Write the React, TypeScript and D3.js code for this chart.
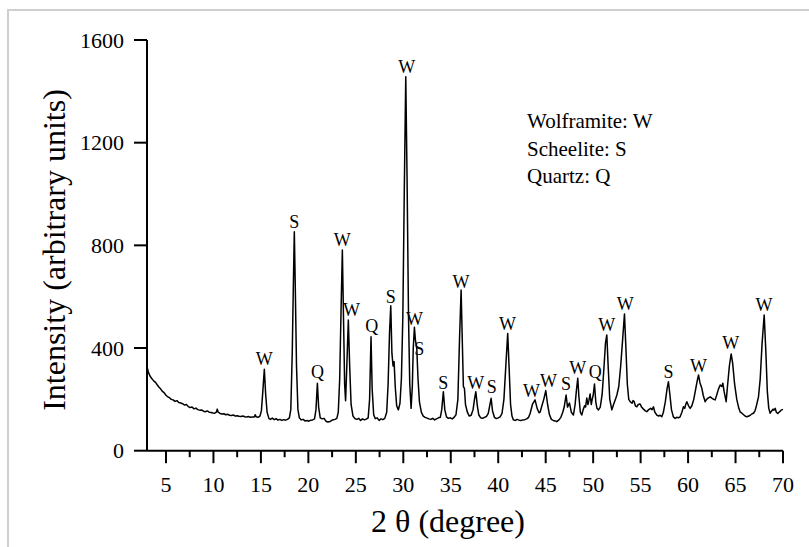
import React from "react";
import * as d3 from "d3";

// XRD pattern: [2θ (degree), intensity (arbitrary units)]
const pattern: [number, number][] = [
[3.0,327],[3.15,305],[3.3,292],[3.5,281],[3.7,272],[3.9,266],[4.05,258],[4.25,248],[4.45,240],[4.6,232],[4.8,226],[5.0,216],[5.15,211],[5.35,207],[5.55,200],[5.75,198],[5.95,192],[6.15,195],[6.35,188],[6.55,186],[6.75,183],[6.95,178],[7.15,180],[7.35,172],[7.55,168],[7.75,170],[7.95,163],[8.15,166],[8.35,160],[8.55,158],[8.75,159],[8.95,154],[9.15,152],[9.35,155],[9.55,150],[9.75,149],[9.95,147],[10.15,146],[10.3,150],[10.4,162],[10.5,150],[10.7,145],[10.9,143],[11.1,144],[11.3,140],[11.5,142],[11.7,138],[11.9,137],[12.1,139],[12.3,135],[12.5,136],[12.7,134],[12.9,133],[13.1,135],[13.3,132],[13.5,131],[13.7,133],[13.9,130],[14.1,131],[14.3,131],[14.4,140],[14.5,132],[14.7,130],[14.9,135],[15.05,155],[15.2,230],[15.36,317],[15.5,220],[15.65,150],[15.85,125],[16.0,122],[16.2,127],[16.4,121],[16.6,125],[16.8,119],[17.0,122],[17.2,118],[17.4,121],[17.6,119],[17.8,122],[18.0,128],[18.15,160],[18.3,380],[18.42,650],[18.52,853],[18.62,640],[18.75,330],[18.9,160],[19.05,128],[19.25,120],[19.45,122],[19.65,116],[19.85,118],[20.05,115],[20.25,119],[20.45,120],[20.65,124],[20.8,160],[20.95,263],[21.08,170],[21.25,128],[21.45,124],[21.65,126],[21.85,115],[22.05,112],[22.3,114],[22.55,120],[22.8,122],[23.0,126],[23.15,150],[23.3,280],[23.45,560],[23.58,782],[23.7,520],[23.82,260],[23.92,195],[24.05,330],[24.21,509],[24.35,330],[24.5,180],[24.7,135],[24.9,125],[25.1,122],[25.3,126],[25.5,118],[25.7,124],[25.9,120],[26.1,123],[26.3,128],[26.45,200],[26.6,444],[26.72,240],[26.88,140],[27.05,125],[27.25,128],[27.45,118],[27.65,124],[27.85,121],[28.05,126],[28.25,150],[28.4,260],[28.55,460],[28.68,565],[28.8,380],[28.92,330],[29.03,347],[29.15,250],[29.3,175],[29.48,159],[29.65,185],[29.8,280],[29.95,520],[30.1,1000],[30.26,1457],[30.4,1050],[30.55,520],[30.68,260],[30.82,165],[30.95,250],[31.05,400],[31.17,481],[31.28,430],[31.42,399],[31.55,280],[31.7,190],[31.9,150],[32.1,135],[32.3,130],[32.5,127],[32.7,124],[32.9,122],[33.1,126],[33.3,120],[33.5,124],[33.7,128],[33.9,130],[34.05,160],[34.22,230],[34.37,160],[34.55,132],[34.75,126],[34.95,128],[35.15,124],[35.35,130],[35.55,140],[35.75,200],[35.92,430],[36.09,626],[36.22,420],[36.33,250],[36.44,243],[36.55,180],[36.75,150],[36.95,135],[37.15,138],[37.35,160],[37.5,200],[37.64,230],[37.8,175],[37.95,140],[38.15,128],[38.35,126],[38.55,130],[38.75,133],[38.95,145],[39.1,175],[39.25,204],[39.4,155],[39.6,130],[39.8,125],[40.0,128],[40.2,132],[40.4,145],[40.6,200],[40.8,330],[41.0,457],[41.15,320],[41.3,180],[41.45,135],[41.6,120],[41.8,118],[42.0,122],[42.2,119],[42.4,118],[42.6,120],[42.8,121],[43.0,124],[43.2,130],[43.36,145],[43.6,180],[43.88,198],[44.1,165],[44.3,148],[44.41,150],[44.6,175],[44.8,200],[45.01,234],[45.2,180],[45.4,140],[45.6,122],[45.8,118],[46.0,116],[46.17,113],[46.4,120],[46.6,130],[46.8,150],[46.95,170],[47.15,217],[47.3,170],[47.5,186],[47.7,150],[47.92,139],[48.1,180],[48.25,240],[48.38,282],[48.5,210],[48.65,150],[48.8,139],[48.95,160],[49.1,175],[49.2,170],[49.33,205],[49.45,180],[49.55,195],[49.68,221],[49.8,180],[49.9,200],[50.0,215],[50.14,260],[50.28,190],[50.4,165],[50.56,159],[50.75,170],[50.95,220],[51.15,330],[51.3,420],[51.44,451],[51.58,330],[51.75,200],[51.97,159],[52.15,180],[52.35,200],[52.5,217],[52.7,250],[52.9,330],[53.1,430],[53.3,533],[53.45,400],[53.6,260],[53.75,200],[53.9,191],[54.1,185],[54.2,195],[54.32,191],[54.45,175],[54.6,171],[54.75,180],[54.95,182],[55.1,170],[55.3,162],[55.5,155],[55.65,152],[55.85,160],[56.05,165],[56.2,160],[56.35,171],[56.5,150],[56.7,139],[56.9,135],[57.05,138],[57.23,132],[57.4,150],[57.6,190],[57.78,240],[57.93,269],[58.08,220],[58.25,160],[58.45,132],[58.64,126],[58.8,130],[59.0,128],[59.16,132],[59.35,150],[59.51,171],[59.65,165],[59.75,180],[59.87,191],[60.05,175],[60.22,165],[60.4,175],[60.6,200],[60.8,240],[60.95,270],[61.1,295],[61.25,265],[61.45,243],[61.6,215],[61.8,191],[61.95,200],[62.1,205],[62.33,210],[62.5,205],[62.7,200],[62.85,198],[63.0,215],[63.2,240],[63.38,256],[63.55,250],[63.66,263],[63.8,230],[64.01,191],[64.15,250],[64.35,330],[64.54,377],[64.7,340],[64.9,260],[65.14,198],[65.35,165],[65.5,150],[65.67,146],[65.85,140],[66.0,135],[66.19,132],[66.4,135],[66.6,140],[66.75,144],[66.89,146],[67.05,155],[67.2,175],[67.42,210],[67.6,280],[67.8,420],[68.02,529],[68.2,380],[68.35,230],[68.5,165],[68.65,146],[68.8,155],[68.95,162],[69.05,158],[69.18,165],[69.3,150],[69.45,145],[69.52,148],[69.65,152],[69.8,158],[70.0,161],
];

// Peak annotations
const labelText = ["W","S","Q","W","W","Q","S","W","W","S","S","W","W","S","W","W","W","S","W","Q","W","W","S","W","W","W"];
const labelX = [15.36,18.52,20.95,23.58,24.55,26.68,28.68,30.36,31.17,31.69,34.22,36.09,37.64,39.32,40.97,43.5,45.3,47.15,48.38,50.21,51.44,53.37,57.93,61.09,64.5,68.0];
const labelY = [334,867,285,797,525,464,574,1473,490,373,239,633,239,224,470,210,249,236,299,282,466,548,282,308,395,544];

const legendLines = ["Wolframite: W", "Scheelite: S", "Quartz: Q"];

const xMajorTicks = [5,10,15,20,25,30,35,40,45,50,55,60,65,70];
const xMinorTicks = [7.5,12.5,17.5,22.5,27.5,32.5,37.5,42.5,47.5,52.5,57.5,62.5,67.5];
const yTicks = [0,400,800,1200,1600];

const FONT = "Liberation Serif, Times New Roman, serif";

export default function App() {
  const W = 809, H = 547;
  const x = d3.scaleLinear().domain([3, 70]).range([147, 783]);
  const y = d3.scaleLinear().domain([0, 1600]).range([450.7, 40]);
  const line = d3.line<[number, number]>().x(d => x(d[0])).y(d => y(d[1]));
  const y0 = y(0);
  const T = { fontFamily: FONT, fill: "#000" } as React.CSSProperties;
  return (
    <svg width={W} height={H} style={{ position: "absolute", left: 0, top: 0, background: "#fff" }}>
      <rect x={0} y={0} width={W} height={H} fill="#fff" />
      <rect x={8} y={10} width={W + 20} height={H + 20} fill="none" stroke="#cfcfcf" strokeWidth={2} />
      {/* data line */}
      <path d={line(pattern) || ""} fill="none" stroke="#000" strokeWidth={1.5} strokeLinejoin="round" />
      {/* axes */}
      <line x1={x(3)} x2={x(3)} y1={y(0)} y2={y(1600)} stroke="#000" strokeWidth={2} />
      <line x1={x(3)} x2={x(70)} y1={y0} y2={y0} stroke="#000" strokeWidth={2} />
      {yTicks.map(t => (
        <g key={"y" + t}>
          <line x1={x(3) - 13} x2={x(3)} y1={y(t)} y2={y(t)} stroke="#000" strokeWidth={2} />
          <text x={124} y={y(t)} dy="0.35em" textAnchor="end" fontSize={22} style={T}>{t}</text>
        </g>
      ))}
      {xMajorTicks.map(t => (
        <g key={"x" + t}>
          <line x1={x(t)} x2={x(t)} y1={y0} y2={y0 + 12.5} stroke="#000" strokeWidth={2} />
          <text x={x(t)} y={492} textAnchor="middle" fontSize={22} style={T}>{t}</text>
        </g>
      ))}
      {xMinorTicks.map(t => (
        <line key={"m" + t} x1={x(t)} x2={x(t)} y1={y0} y2={y0 + 6.5} stroke="#000" strokeWidth={2} />
      ))}
      {/* peak labels */}
      {labelText.map((s, i) => (
        <text key={"l" + i} x={x(labelX[i])} y={y(labelY[i])} textAnchor="middle" fontSize={18} style={T}>{s}</text>
      ))}
      {/* legend */}
      {legendLines.map((s, i) => (
        <text key={"g" + i} x={527} y={128 + i * 27.5} fontSize={21} style={T}>{s}</text>
      ))}
      {/* axis titles */}
      <text x={448} y={532} textAnchor="middle" fontSize={32} style={T}>2 θ (degree)</text>
      <text transform="translate(65,250) rotate(-90)" textAnchor="middle" fontSize={32} style={T}>Intensity (arbitrary units)</text>
    </svg>
  );
}
